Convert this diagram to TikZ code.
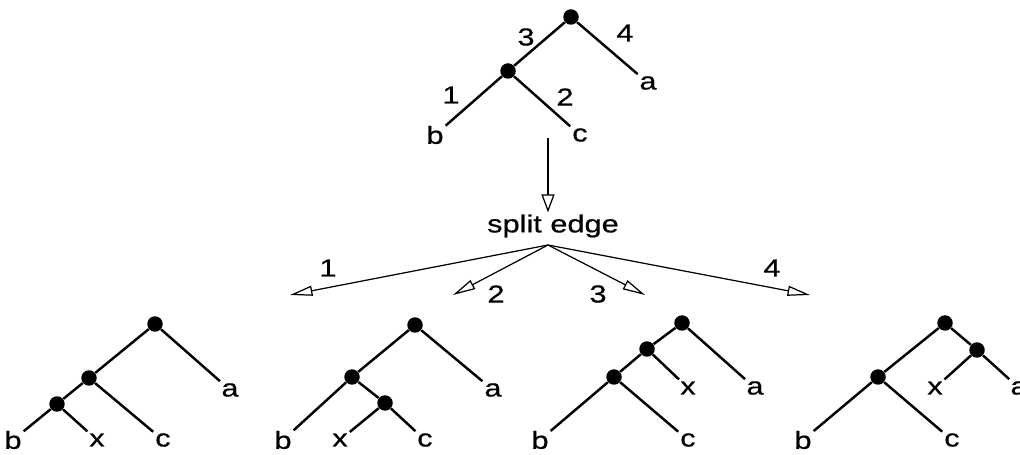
\documentclass[tikz,border=0pt]{standalone}
\usepackage{fontspec}
\setmainfont{Liberation Sans}[FakeStretch=1.25, FakeBold=0.6]
\usetikzlibrary{arrows.meta}

\tikzset{
	nodo/.style={circle, fill, inner sep=0pt, minimum size=0.31cm},
	foglia/.style={inner sep=1pt, font=\fontsize{14}{16}\selectfont},
	ramo/.style={line width=1.4pt},
	freccia/.style={line width=0.7pt, -{Triangle[open, length=0.45cm, width=0.2cm]}},
	giu/.style={line width=0.7pt, -{Triangle[open, length=0.36cm, width=0.26cm]}}
}

\begin{document}
\begin{tikzpicture}[x=0.02cm, y=-0.02cm]
		\useasboundingbox (0,0) rectangle (1020,455); % Cornice
		
		% Albero di partenza
		\node[nodo] (r) at (571,17) {}; % Radice
		\node[nodo] (n) at (508,71) {}; % Nodo interno
		\node[foglia] (a) at (648,83) {a};
		\node[foglia] (b) at (435,135) {b};
		\node[foglia] (c) at (580,135) {c};
		\draw[ramo] (r) -- (n) (r) -- (a) (n) -- (b) (n) -- (c);
		\node[foglia] (e3) at (526,37) {3}; % Etichette dei rami
		\node[foglia] (e4) at (625,33) {4};
		\node[foglia] (e1) at (451,95) {1};
		\node[foglia] (e2) at (565,97) {2};
		
		% Freccia verso il passo
		\node[foglia] (split) at (553,226) {split edge};
		\coordinate (su) at (548,138);
		\draw[giu] (su) -- (su |- split.north);
		
		% Ventaglio delle quattro scelte
		\coordinate (fan) at (548,245);
		\coordinate (t1) at (290,295);
		\coordinate (t2) at (453,295);
		\coordinate (t3) at (645,295);
		\coordinate (t4) at (810,295);
		\draw[freccia] (fan) -- (t1);
		\draw[freccia] (fan) -- (t2);
		\draw[freccia] (fan) -- (t3);
		\draw[freccia] (fan) -- (t4);
		\node[foglia] (f1) at (328,268) {1};
		\node[foglia] (f2) at (496,294) {2};
		\node[foglia] (f3) at (598,294) {3};
		\node[foglia] (f4) at (772,268) {4};
		
		% Albero 1: x sul ramo di b
		\node[nodo] (r1) at (155,324) {};
		\node[nodo] (m1) at (89,378) {};
		\node[nodo] (l1) at (57,404) {};
		\node[foglia] (a1) at (230,390) {a};
		\node[foglia] (b1) at (13,440) {b};
		\node[foglia] (x1) at (97,440) {x};
		\node[foglia] (c1) at (163,440) {c};
		\draw[ramo] (r1) -- (m1) (r1) -- (a1) (m1) -- (l1) (m1) -- (c1) (l1) -- (b1) (l1) -- (x1);
		
		% Albero 2: x sul ramo di c
		\node[nodo] (r2) at (415,325) {};
		\node[nodo] (m2) at (352,377) {};
		\node[nodo] (l2) at (385,403) {};
		\node[foglia] (a2) at (493,390) {a};
		\node[foglia] (b2) at (283,440) {b};
		\node[foglia] (x2) at (340,440) {x};
		\node[foglia] (c2) at (425,440) {c};
		\draw[ramo] (r2) -- (m2) (r2) -- (a2) (m2) -- (b2) (m2) -- (l2) (l2) -- (x2) (l2) -- (c2);
		
		% Albero 3: x sul ramo interno
		\node[nodo] (r3) at (682,323) {};
		\node[nodo] (m3) at (647,349) {};
		\node[nodo] (l3) at (614,377) {};
		\node[foglia] (x3) at (688,388) {x};
		\node[foglia] (a3) at (755,388) {a};
		\node[foglia] (b3) at (540,440) {b};
		\node[foglia] (c3) at (688,440) {c};
		\draw[ramo] (r3) -- (m3) (r3) -- (a3) (m3) -- (l3) (m3) -- (x3) (l3) -- (b3) (l3) -- (c3);
		
		% Albero 4: x sul ramo di a
		\node[nodo] (r4) at (945,323) {};
		\node[nodo] (m4) at (977,350) {};
		\node[nodo] (l4) at (878,377) {};
		\node[foglia] (x4) at (935,388) {x};
		\node[foglia] (a4) at (1019,388) {a};
		\node[foglia] (b4) at (803,440) {b};
		\node[foglia] (c4) at (952,440) {c};
		\draw[ramo] (r4) -- (l4) (r4) -- (m4) (m4) -- (x4) (m4) -- (a4) (l4) -- (b4) (l4) -- (c4);
	\end{tikzpicture}
\end{document}
